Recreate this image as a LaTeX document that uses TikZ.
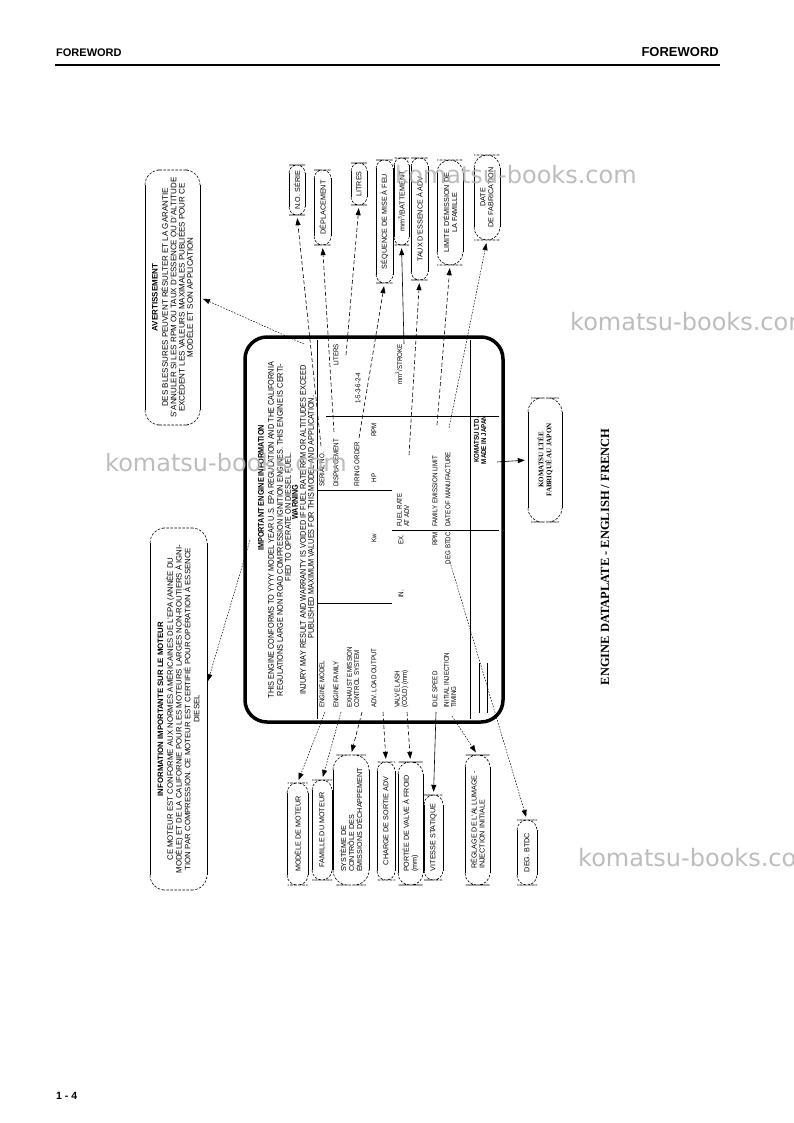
\documentclass[tikz,border=0pt]{standalone}
\usepackage{fontspec}
\setmainfont{Liberation Sans}
\newfontfamily\platefont[FakeStretch=0.88]{Liberation Sans}
\newfontfamily\capfont{Liberation Serif}
\newfontfamily\wmfont{DejaVu Sans}
\usetikzlibrary{arrows.meta}
\tikzset{
  boxside/.style={line width=0.6pt},
  boxend/.style={line width=0.6pt,dash pattern=on 2.5pt off 1.5pt},
  boxtxt/.style={rotate=90,inner sep=0pt,align=center,font=\fontsize{7.2}{8}\selectfont},
  ptxt/.style={rotate=90,inner sep=0pt,font=\platefont\fontsize{8.3}{9}\selectfont},
  tbl/.style={rotate=90,inner sep=0pt,align=left,font=\platefont\fontsize{7}{7.2}\selectfont},
  gridline/.style={line width=0.6pt},
  tipA/.style={-{Triangle[length=7pt,width=5pt]},shorten >=3pt},
  lead/.style={tipA,line width=0.6pt,dash pattern=on 4pt off 2.5pt},
  fine/.style={tipA,line width=0.5pt,dash pattern=on 1.6pt off 1.4pt},
  solidarr/.style={tipA,line width=0.6pt},
  wm/.style={anchor=west,inner sep=0pt,font=\wmfont\fontsize{24}{24}\selectfont,text=black!30,opacity=0.85},
}
% #1 extra style, #2 name, #3 x1, #4 y1, #5 x2, #6 y2, #7 end radius, #8 text
\newcommand{\callbox}[8][]{%
  \draw[boxside] (#3,#4+#7) -- (#3,#6-#7) (#5,#4+#7) -- (#5,#6-#7);
  \draw[boxend,rounded corners=#7pt] (#3,#4+#7) |- ({(#3+#5)/2},#4) -| (#5,#4+#7);
  \draw[boxend,rounded corners=#7pt] (#3,#6-#7) |- ({(#3+#5)/2},#6) -| (#5,#6-#7);
  \node[boxtxt,minimum width={(#6-#4)*1pt},minimum height={(#5-#3)*1pt},#1] (#2) at ({(#3+#5)/2},{(#4+#6)/2}) {#8};
}
\begin{document}
\begin{tikzpicture}[x=1pt,y=-1pt]
\useasboundingbox (0,0) rectangle (793,1123);
\fill[white] (0,0) rectangle (793,1123);

% page header and footer
\node[anchor=base west,inner sep=0pt,font=\bfseries\fontsize{11}{11}\selectfont] (hdl) at (56,57) {FOREWORD};
\node[anchor=base east,inner sep=0pt,font=\bfseries\fontsize{13}{13}\selectfont] (hdr) at (719,57) {FOREWORD};
\draw[line width=2pt] (55,65) -- (720,65);
\node[anchor=base west,inner sep=0pt,font=\bfseries\fontsize{10.5}{10.5}\selectfont] (pgno) at (56,1099) {1 - 4};

% the data plate
\node[draw,line width=3.5pt,rounded corners=22pt,minimum width=258pt,minimum height=385pt,inner sep=0pt] (plate) at (374,529.5) {};
\node[ptxt,font=\platefont\bfseries\fontsize{8.3}{9}\selectfont] (h0) at (261,488) {IMPORTANT ENGINE INFORMATION};
\node[ptxt] (h1) at (271,530) {THIS ENGINE CONFORMS TO YYYY MODEL YEAR U.S. EPA REGULATION AND THE CALIFORNIA};
\node[ptxt] (h2) at (280,530) {REGULATIONS LARGE NON ROAD COMPRESSION IGNITION ENGINES. THIS ENGINE IS CERTI-};
\node[ptxt] (h3) at (288,517) {FIED TO OPERATE ON DIESEL FUEL.};
\node[ptxt,font=\platefont\bfseries\fontsize{8.3}{9}\selectfont] (h4) at (295,502) {WARNING};
\node[ptxt] (h5) at (303,530) {INJURY MAY RESULT AND WARRANTY IS VOIDED IF FUEL RATE RPM OR ALTITUDES EXCEED};
\node[ptxt] (h6) at (311,517) {PUBLISHED MAXIMUM VALUES FOR THIS MODEL AND APPLICATION.};

% table grid
\draw[gridline] (317,340) -- (317,719);
\draw[gridline] (470,340) -- (470,719);
\draw[gridline] (317,603) -- (392,603);
\draw[gridline] (317,490) -- (392,490);
\draw[gridline] (326,416) -- (499,416);
\draw[gridline] (392,530) -- (499,530);
\draw[gridline] (479,663) -- (479,713);
\draw[gridline] (487,663) -- (487,713);

% table texts
\node[tbl,anchor=west] (t11) at (322,708) {ENGINE MODEL};
\node[tbl,anchor=west] (t12) at (322,487) {SERIAL NO.};
\node[tbl,anchor=west] (t21) at (336,708) {ENGINE FAMILY};
\node[tbl,anchor=west] (t22) at (336,487) {DISPLACEMENT};
\node[tbl,anchor=east] (t23) at (336,344) {LITERS};
\node[tbl,anchor=west] (t31) at (353,708) {EXHAUST EMISSION\\CONTROL SYSTEM};
\node[tbl,anchor=west] (t32) at (357,487) {FIRING ORDER};
\node[tbl,anchor=west] (t33) at (358,404) {1-5-3-6-2-4};
\node[tbl,anchor=west] (t41) at (374,708) {ADV. LOAD OUTPUT};
\node[tbl] (t42) at (374,538) {Kw};
\node[tbl] (t43) at (374,478) {HP};
\node[tbl] (t44) at (374,430) {RPM};
\node[tbl,anchor=west] (t51) at (401.5,708) {VALVE LASH\\(COLD) (mm)};
\node[tbl,anchor=west] (t52) at (401,598) {IN.};
\node[tbl,anchor=west] (t53) at (401,545) {EX.};
\node[tbl,anchor=west] (t54) at (403,527) {FUEL RATE\\AT ADV};
\node[tbl,anchor=east] (t55) at (399,344) {mm\textsuperscript{3}/STROKE};
\node[tbl,anchor=west] (t61) at (435,708) {IDLE SPEED};
\node[tbl,anchor=east] (t62) at (435,532) {RPM};
\node[tbl,anchor=west] (t63) at (435,527) {FAMILY EMISSION LIMIT};
\node[tbl,anchor=west] (t71) at (450,708) {INITIAL INJECTION\\TIMING};
\node[tbl,anchor=east] (t72) at (448,532) {DEG BTDC};
\node[tbl,anchor=west] (t73) at (448,527) {DATE OF MANUFACTURE};
\node[tbl,align=center,font=\platefont\bfseries\fontsize{7}{7.2}\selectfont] (t81) at (480,440) {KOMATSU LTD.\\MADE IN JAPAN};

% callout boxes, top
\callbox{serie}{289}{165}{305}{215}{8}{N.O. SÉRIE}
\callbox{depl}{314}{170}{331}{245}{8.5}{DÉPLACEMENT}
\callbox{litres}{351}{163}{367}{205}{8}{LITRES}
\callbox{seq}{376}{160}{393}{283}{8.5}{SÉQUENCE DE MISE À FEU}
\callbox{mmb}{394}{158}{409}{245}{7.5}{mm\textsuperscript{3}/BATTEMENT}
\callbox{taux}{411}{158}{428}{280}{8.5}{TAUX D'ESSENCE À ADV}
\callbox{limite}{437}{160}{463}{265}{13}{LIMITE D'ÉMISSION DE\\LA FAMILLE}
\callbox{date}{474}{155}{500}{240}{13}{DATE\\DE FABRICATION}

% callout boxes, left
\callbox[font=\fontsize{8}{8.3}\selectfont]{avert}{145}{170}{200}{425}{15}{\textbf{AVERTISSEMENT}\\[2pt]DES BLESSURES PEUVENT RÉSULTER ET LA GARANTIE\\S'ANNULER SI LES RPM OU TAUX D'ESSENCE OU D'ALTITUDE\\EXCÈDENT LES VALEURS MAXIMALES PUBLIÉES POUR CE\\MODÈLE ET SON APPLICATION}
\callbox[font=\fontsize{7.8}{8.8}\selectfont]{info}{150}{528}{207}{890}{15}{\textbf{INFORMATION IMPORTANTE SUR LE MOTEUR}\\[1pt]CE MOTEUR EST CONFORME AUX NORMES AMÉRICAINES DE L'EPA (ANNÉE DU\\MODÈLE) ET DE LA CALIFORNIE POUR LES MOTEURS LARGES NON-ROUTIERS À IGNI-\\TION PAR COMPRESSION. CE MOTEUR EST CERTIFIÉ POUR OPÉRATION À ESSENCE\\DIESEL}

% callout boxes, bottom
\callbox{modele}{287}{783}{308}{885}{10}{MODÈLE DE MOTEUR}
\callbox{famille}{312}{780}{332}{880}{10}{FAMILLE DU MOTEUR}
\callbox[align=left]{systeme}{333}{755}{369}{885}{15}{SYSTÈME DE\\CONTRÔLE DES\\ÉMISSIONS D'ÉCHAPPEMENT}
\callbox{charge}{377}{762}{395}{880}{9}{CHARGE DE SORTIE ADV}
\callbox[align=left]{portee}{398}{762}{423}{885}{12}{PORTÉE DE VALVE À FROID\\(mm)}
\callbox{vitesse}{424}{795}{443}{880}{9.5}{VITESSE STATIQUE}
\callbox[align=left]{reglage}{465}{755}{490}{885}{12}{RÉGLAGE DE L'ALLUMAGE -\\INJECTION INITIALE}
\callbox{deg}{517}{820}{537}{885}{10}{DEG. BTDC}

% callout box, right
\callbox[font=\capfont\bfseries\fontsize{7}{8}\selectfont]{kmbox}{528}{398}{562}{522}{14}{KOMATSU LTÉE\\FABRIQUÉ AU JAPON}

% caption
\node[rotate=90,inner sep=0pt,font=\capfont\bfseries\fontsize{12.5}{12.5}\selectfont] (caption) at (605,557) {ENGINE DATAPLATE - ENGLISH / FRENCH};

% connector sources and free ends
\coordinate (sSerial) at (321,446);
\coordinate (sDispl) at (334,432);
\coordinate (sLiters) at (346,355);
\coordinate (sFiring) at (359,438);
\coordinate (sStroke) at (404,344);
\coordinate (sFuel) at (409,455);
\coordinate (sFamLim) at (437,425);
\coordinate (sDate) at (449,428);
\coordinate (sWarn) at (304,344);
\coordinate (sInfo) at (250,540);
\coordinate (infoTip) at (207,684);
\coordinate (sModel) at (325,712);
\coordinate (sFamily) at (341,712);
\coordinate (sExhaust) at (362,712);
\coordinate (sLoad) at (383,712);
\coordinate (sLash) at (407,712);
\coordinate (sIdle) at (436,712);
\coordinate (sTiming) at (452,716);
\coordinate (sDeg) at (450,562);
\coordinate (sMaker) at (497,462);

% connectors
\draw[lead] (sSerial) -- (serie.west);
\draw[lead] (sDispl) -- (depl.west);
\draw[lead] (sLiters) -- (litres.west);
\draw[lead] (sFiring) -- (seq.west);
\draw[solidarr] (sStroke) -- (mmb.west);
\draw[lead] (sFuel) -- (taux.west);
\draw[lead] (sFamLim) -- (limite.west);
\draw[fine] (sDate) -- (date.west);
\draw[fine] (sWarn) -- (avert.south);
\draw[fine] (sInfo) -- (infoTip);
\draw[fine] (sModel) -- (modele.east);
\draw[fine] (sFamily) -- (famille.east);
\draw[lead] (sExhaust) -- (systeme.east);
\draw[lead] (sLoad) -- (charge.east);
\draw[lead] (sLash) -- (portee.east);
\draw[solidarr] (sIdle) -- (vitesse.east);
\draw[fine] (sTiming) -- (reglage.east);
\draw[fine] (sDeg) -- (deg.east);
\draw[solidarr] (sMaker) -- (kmbox.north);

% watermarks
\node[wm] (wm1) at (395,175) {komatsu-books.com};
\node[wm] (wm2) at (570,322) {komatsu-books.com};
\node[wm] (wm3) at (105,463) {komatsu-books.com};
\node[wm] (wm4) at (578,858) {komatsu-books.com};
\end{tikzpicture}
\end{document}
